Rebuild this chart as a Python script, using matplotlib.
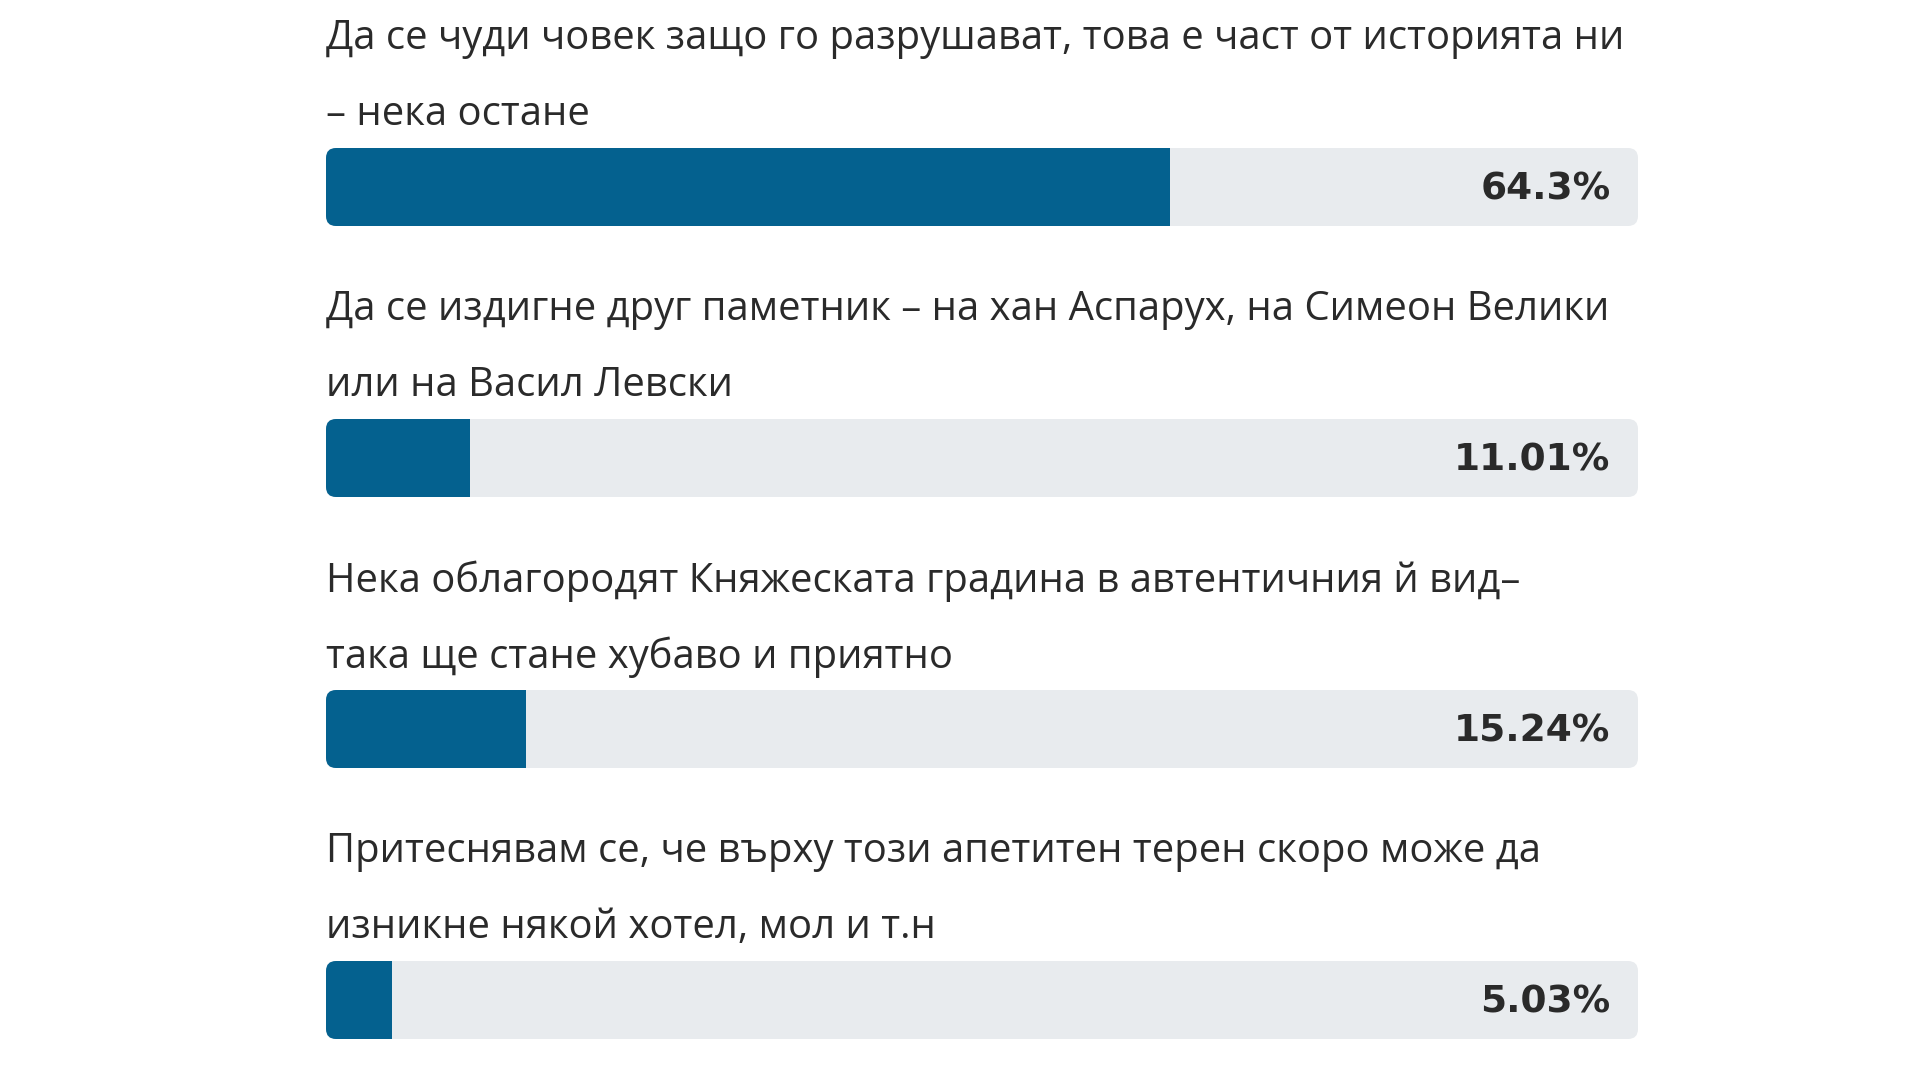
import matplotlib
matplotlib.use("Agg")
import matplotlib.pyplot as plt
from matplotlib.patches import FancyBboxPatch
from matplotlib import font_manager

answers_line1 = [
    "Да се чуди човек защо го разрушават, това е част от историята ни",
    "Да се издигне друг паметник – на хан Аспарух, на Симеон Велики",
    "Нека облагородят Княжеската градина в автентичния й вид–",
    "Притеснявам се, че върху този апетитен терен скоро може да",
]
answers_line2 = [
    "– нека остане",
    "или на Васил Левски",
    "така ще стане хубаво и приятно",
    "изникне някой хотел, мол и т.н",
]
values = [64.3, 11.01, 15.24, 5.03]
value_labels = ["64.3%", "11.01%", "15.24%", "5.03%"]

names = {f.name for f in font_manager.fontManager.ttflist}
text_font = "Open Sans" if "Open Sans" in names else "DejaVu Sans"

W, H = 1920, 1080
fig = plt.figure(figsize=(W / 100, H / 100), dpi=100)
fig.patch.set_facecolor("white")

left_px, right_px = 326, 1638
ax = fig.add_axes([left_px / W, 0, (right_px - left_px) / W, 1])
first_center = 187
spacing = 271
ax.set_xlim(0, 100)
ax.set_ylim((H - first_center) / spacing, -first_center / spacing)
ax.axis("off")

px_x = (right_px - left_px) / 100.0   # px per x unit
px_y = spacing                         # px per y unit
bar_h = 78 / px_y
radius = 10 / px_x
aspect = px_x / px_y

fill_color = "#04618f"
bg_color = "#e8ebee"
text_color = "#2a2a2a"

for i, (l1, l2, v, lab) in enumerate(zip(answers_line1, answers_line2, values, value_labels)):
    bg = FancyBboxPatch((0, i - bar_h / 2), 100, bar_h,
                        boxstyle=f"round,pad=0,rounding_size={radius}",
                        mutation_aspect=aspect,
                        facecolor=bg_color, edgecolor="none", zorder=1)
    ax.add_patch(bg)
    bars = ax.barh([i], [v], height=bar_h, left=0, color=fill_color, zorder=2)
    for b in bars:
        b.set_clip_path(bg)
    ax.text(97.9, i + 0.01, lab, ha="right", va="center", fontsize=27,
            fontweight="bold", color=text_color, family="DejaVu Sans", zorder=3)
    ax.text(0, i - 148 / px_y, l1, ha="left", va="center", fontsize=28.8,
            color=text_color, family=text_font)
    ax.text(0, i - 72 / px_y, l2, ha="left", va="center", fontsize=28.8,
            color=text_color, family=text_font)

fig.savefig("out.png", dpi=100, facecolor="white")
